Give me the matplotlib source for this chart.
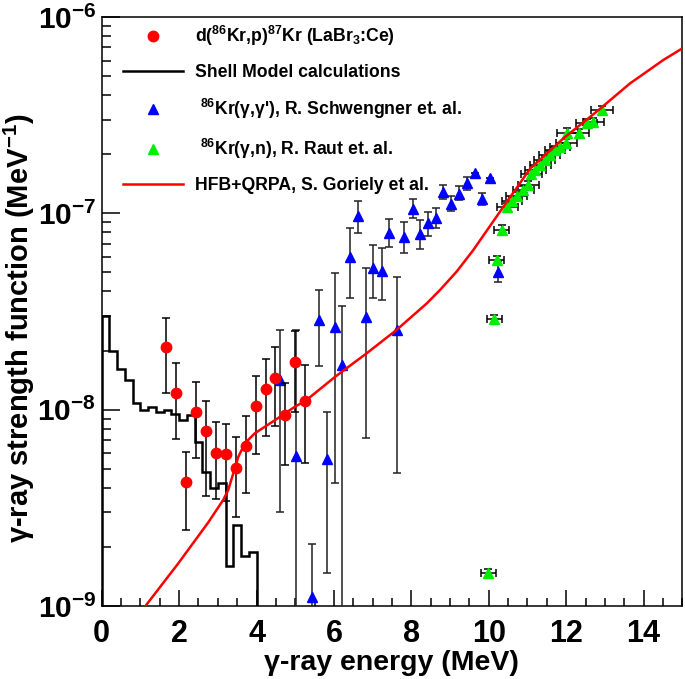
import numpy as np
import matplotlib
matplotlib.use("Agg")
import matplotlib.pyplot as plt
from matplotlib.ticker import LogLocator, LogFormatterMathtext, MultipleLocator, NullFormatter
from matplotlib.lines import Line2D

# ---------------- data ----------------
# d(86Kr,p)87Kr (LaBr3:Ce)
red_E = [1.66, 1.92, 2.18, 2.43, 2.70, 2.95, 3.21, 3.47, 3.72, 3.99, 4.24, 4.49, 4.74, 5.00, 5.26]
red_S = [2.08e-8, 1.21e-8, 4.27e-9, 9.73e-9, 7.82e-9, 6.05e-9, 5.92e-9, 5.02e-9, 6.53e-9,
         1.04e-8, 1.28e-8, 1.45e-8, 9.38e-9, 1.75e-8, 1.11e-8]
red_lo = [1.22e-8, 7.06e-9, 2.44e-9, 5.69e-9, 3.63e-9, 3.52e-9, 3.42e-9, 2.84e-9, 3.75e-9,
          5.96e-9, 7.31e-9, 8.24e-9, 5.22e-9, 9.75e-9, 5.32e-9]
red_hi = [2.94e-8, 1.72e-8, 6.11e-9, 1.39e-8, 1.11e-8, 8.65e-9, 8.41e-9, 7.23e-9, 9.31e-9,
          1.48e-8, 1.82e-8, 2.08e-8, 1.36e-8, 2.52e-8, 1.68e-8]

# Shell model histogram (0.2 MeV bins, 0-4 MeV)
shell_edges = [0.0, 0.2, 0.4, 0.6, 0.8, 1.0, 1.2, 1.4, 1.6, 1.8, 2.0,
               2.2, 2.4, 2.6, 2.8, 3.0, 3.2, 3.4, 3.6, 3.8, 4.0]
shell_S = [3.01e-8, 2.00e-8, 1.61e-8, 1.42e-8, 1.08e-8, 9.96e-9, 1.03e-8, 9.73e-9, 9.96e-9, 9.50e-9,
           8.86e-9, 9.39e-9, 6.87e-9, 4.81e-9, 3.98e-9, 4.22e-9, 1.59e-9, 2.58e-9, 1.80e-9, 1.89e-9]

# 86Kr(g,g'), Schwengner et al.
blue_E = [4.61, 5.01, 5.43, 5.62, 5.81, 6.03, 6.22, 6.42, 6.61, 6.82, 7.02, 7.24, 7.42, 7.62,
          7.82, 8.03, 8.22, 8.42, 8.64, 8.83, 9.03, 9.23, 9.43, 9.65, 9.83, 10.03, 10.25]
blue_S = [1.42e-8, 5.81e-9, 1.11e-9, 2.86e-8, 5.58e-9, 2.65e-8, 1.69e-8, 5.97e-8, 9.68e-8, 2.98e-8,
          5.25e-8, 5.11e-8, 7.96e-8, 2.55e-8, 7.60e-8, 1.05e-7, 7.82e-8, 8.89e-8, 9.51e-8, 1.28e-7,
          1.12e-7, 1.25e-7, 1.42e-7, 1.61e-7, 1.18e-7, 1.52e-7, 5.05e-8]
blue_lo = [3.02e-9, 1e-11, 1e-11, 1.66e-8, 1.48e-9, 4.22e-9, 1e-11, 3.69e-8, 7.96e-8, 7.14e-9,
           3.72e-8, 3.62e-8, 6.71e-8, 4.78e-9, 6.31e-8, 9.44e-8, 6.56e-8, 7.67e-8, 8.45e-8, 1.19e-7,
           1.03e-7, 1.17e-7, 1.32e-7, 1.61e-7, 1.10e-7, 1.52e-7, 4.46e-8]
blue_hi = [2.55e-8, 2.55e-8, 2.07e-9, 4.07e-8, 9.77e-9, 4.94e-8, 3.37e-8, 8.39e-8, 1.16e-7, 5.28e-8,
           6.90e-8, 6.64e-8, 9.35e-8, 4.72e-8, 9.06e-8, 1.18e-7, 9.25e-8, 1.02e-7, 1.07e-7, 1.39e-7,
           1.23e-7, 1.37e-7, 1.54e-7, 1.61e-7, 1.27e-7, 1.52e-7, 5.75e-8]

# 86Kr(g,n), Raut et al.
green_E = [9.99, 10.14, 10.20, 10.33, 10.48, 10.60, 10.72, 10.89, 11.02, 11.10, 11.20,
           11.33, 11.45, 11.58, 11.71, 11.84, 12.00, 12.03, 12.32, 12.53, 12.70, 12.92]
green_S = [1.47e-9, 2.88e-8, 5.78e-8, 8.26e-8, 1.08e-7, 1.15e-7, 1.23e-7, 1.32e-7, 1.39e-7, 1.59e-7,
           1.66e-7, 1.76e-7, 1.87e-7, 1.98e-7, 2.10e-7, 2.18e-7, 2.28e-7, 2.58e-7, 2.56e-7, 2.88e-7,
           2.93e-7, 3.36e-7]
green_dE = [0.19, 0.19, 0.19, 0.19, 0.27, 0.27, 0.27, 0.27, 0.27, 0.27, 0.27,
            0.27, 0.27, 0.27, 0.27, 0.27, 0.27, 0.27, 0.27, 0.27, 0.27, 0.29]
green_rel = 0.05

# HFB+QRPA, Goriely et al.
hfb_E = [1.0, 1.13, 1.98, 2.75, 3.14, 3.27, 3.40, 3.53, 3.70, 3.96, 4.48, 4.99, 5.26, 6.03,
         6.85, 7.62, 8.40, 8.74, 9.17, 9.60, 10.29, 11.07, 11.93, 12.79, 13.65, 14.51, 15.0]
hfb_S = [9.12e-10, 1.0e-9, 1.65e-9, 2.66e-9, 3.47e-9, 3.90e-9, 4.74e-9, 5.75e-9, 6.75e-9, 7.59e-9,
         8.85e-9, 1.035e-8, 1.107e-8, 1.47e-8, 1.94e-8, 2.55e-8, 3.48e-8, 4.07e-8, 5.05e-8, 6.50e-8,
         1.02e-7, 1.69e-7, 2.41e-7, 3.30e-7, 4.59e-7, 6.04e-7, 6.92e-7]

labels = [r"d($^{86}$Kr,p)$^{87}$Kr (LaBr$_{3}$:Ce)",
          "Shell Model calculations",
          " $^{86}$Kr(γ,γ'), R. Schwengner et. al.",
          " $^{86}$Kr(γ,n), R. Raut et. al.",
          "HFB+QRPA, S. Goriely et al."]

# ---------------- style ----------------
plt.rcParams['font.family'] = ['Liberation Sans', 'DejaVu Sans']
plt.rcParams['font.weight'] = 'bold'
plt.rcParams['mathtext.fontset'] = 'custom'
plt.rcParams['mathtext.rm'] = 'Liberation Sans:bold'
plt.rcParams['mathtext.it'] = 'Liberation Sans:bold'
plt.rcParams['mathtext.bf'] = 'Liberation Sans:bold'
plt.rcParams['mathtext.default'] = 'rm'

fig = plt.figure(figsize=(6.85, 6.79), dpi=100)
ax = fig.add_axes([101.7 / 685, 73 / 679, 580.6 / 685, 589 / 679])

# shell model
ax.stairs(shell_S, shell_edges, baseline=1e-12, color='black', lw=1.8, zorder=2)

# HFB curve
ax.plot(hfb_E, hfb_S, color='red', lw=1.8, zorder=6)

# red data
red_S_a = np.array(red_S)
ax.errorbar(red_E, red_S, yerr=[red_S_a - np.array(red_lo), np.array(red_hi) - red_S_a],
            fmt='o', color='red', ms=7.5, mec='red', ecolor='black', elinewidth=1.1,
            capsize=3, capthick=1.1, zorder=5)

# blue data
blue_S_a = np.array(blue_S)
ax.errorbar(blue_E, blue_S, yerr=[blue_S_a - np.array(blue_lo), np.array(blue_hi) - blue_S_a],
            fmt='^', color='#0000ff', ms=7, mec='#0000ff', ecolor='#222222', elinewidth=1.1,
            capsize=3, capthick=1.1, zorder=4)

# green data
green_S_a = np.array(green_S)
ax.errorbar(green_E, green_S, xerr=green_dE, yerr=green_S_a * green_rel,
            fmt='^', color='#00ee00', ms=7.5, mec='#00ee00', ecolor='black', elinewidth=1.1,
            capsize=3, capthick=1.1, zorder=5)

ax.set_yscale('log')
ax.set_xlim(0, 15)
ax.set_ylim(1e-9, 1e-6)

ax.xaxis.set_major_locator(MultipleLocator(2))
ax.xaxis.set_minor_locator(MultipleLocator(0.5))
ax.yaxis.set_major_locator(LogLocator(base=10))
ax.yaxis.set_minor_locator(LogLocator(base=10, subs=np.arange(2, 10)))
ax.yaxis.set_major_formatter(LogFormatterMathtext())
ax.yaxis.set_minor_formatter(NullFormatter())

ax.tick_params(axis='x', which='both', direction='in', top=False, bottom=True,
               labelsize=22, pad=9, width=1.1)
ax.tick_params(axis='y', which='both', direction='in', left=True, right=False,
               labelsize=21.5, pad=4, width=1.1)
ax.tick_params(axis='x', which='major', length=11.5)
ax.tick_params(axis='x', which='minor', length=5.8)
ax.tick_params(axis='y', which='major', length=13)
ax.tick_params(axis='y', which='minor', length=6.5)
for s in ax.spines.values():
    s.set_linewidth(1.1)

ax.set_xlabel("γ-ray energy (MeV)", fontsize=20.5, fontweight='bold')
ax.set_ylabel(r"γ-ray strength function (MeV$^{-1}$)", fontsize=21, fontweight='bold')
ax.xaxis.set_label_coords(0.499, -0.074)
ax.yaxis.set_label_coords(-0.112, 0.472)

handles = [Line2D([], [], ls='none', marker='o', color='red', ms=7.5),
           Line2D([], [], color='black', lw=1.8),
           Line2D([], [], ls='none', marker='^', color='#0000ff', ms=7),
           Line2D([], [], ls='none', marker='^', color='#00ee00', ms=7.5),
           Line2D([], [], color='red', lw=1.8)]
ax.legend(handles, labels, loc='upper left', bbox_to_anchor=(0.036, 0.988),
          frameon=False, fontsize=12.7, handlelength=3.4, handletextpad=0.72,
          labelspacing=0.9, borderpad=0, borderaxespad=0)

fig.savefig('out.png', dpi=100)
